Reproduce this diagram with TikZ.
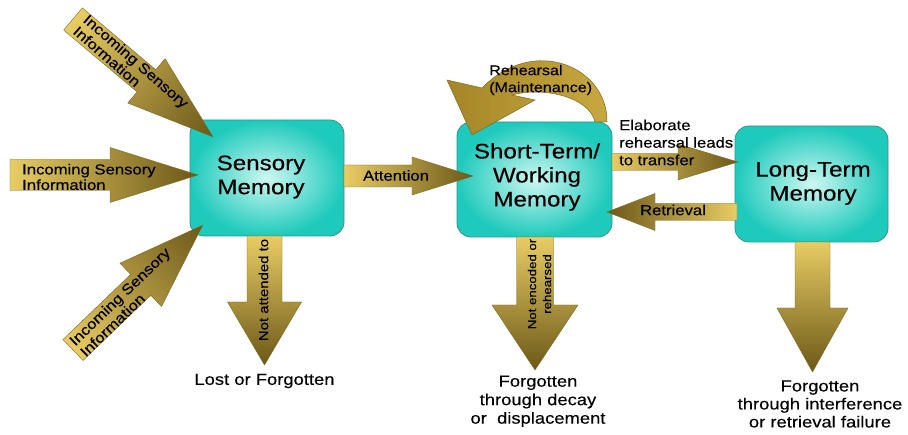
\documentclass[tikz,border=0pt]{standalone}
\usepackage{fontspec}
\setmainfont{Liberation Sans}[FakeStretch=1.15,FakeBold=0.3]
\definecolor{tealE}{RGB}{30,202,188}
\definecolor{tealC}{RGB}{205,247,241}
\definecolor{tealB}{RGB}{45,150,140}
\definecolor{goldL}{RGB}{232,204,100}
\definecolor{goldM}{RGB}{186,152,48}
\definecolor{goldD}{RGB}{108,88,24}
\definecolor{goldE}{RGB}{128,104,30}
\definecolor{rehL}{RGB}{165,134,40}
\definecolor{rehR}{RGB}{200,168,62}
\tikzset{
  memo/.style={rounded corners=14pt, draw=tealB, line width=0.8pt, inner color=tealC, outer color=tealE},
  barrowstyle/.style={left color=goldL, middle color=goldM, right color=goldD, draw=goldE, line width=0.4pt},
  rehstyle/.style={left color=rehL, right color=rehR, draw=goldE, line width=0.5pt},
  lbl/.style={inner sep=0pt, text=black},
  boxtxt/.style={lbl, font=\fontsize{21}{24}\selectfont, align=center}
}
\newcommand\blockarrow[7]{% tailx taily angle length shafthw headlen headhw
  \begin{scope}[transform canvas={shift={(#1,#2)},rotate=#3}]
    \path[barrowstyle] (0,-#5) -- (#4-#6,-#5) -- (#4-#6,-#7) -- (#4,0)
      -- (#4-#6,#7) -- (#4-#6,#5) -- (0,#5) -- cycle;
  \end{scope}}
\begin{document}
\begin{tikzpicture}[x=1pt,y=1pt]
\useasboundingbox (0,0) rectangle (908,434);
\fill[white] (0,0) rectangle (908,434);

% memory boxes
\node[memo, minimum width=154pt, minimum height=116pt] (sm) at (267,256) {};
\node[memo, minimum width=155pt, minimum height=115pt] (stm) at (534.5,254.5) {};
\node[memo, minimum width=153pt, minimum height=116pt] (ltm) at (811.5,250) {};

% block arrows
\blockarrow{73}{415}{-40.1}{183}{14.5}{87}{29}
\blockarrow{10}{259}{0}{188}{15.5}{88}{27.5}
\blockarrow{73}{84}{43.9}{180}{14.5}{86}{30}
\blockarrow{344}{258}{0}{129}{11}{61}{19}
\blockarrow{612}{272}{0}{126}{8.5}{60}{18}
\blockarrow{737}{222}{180}{130}{8.5}{48}{18.5}
\blockarrow{264.5}{198}{-90}{129}{17.5}{63}{37}
\blockarrow{535}{197}{-90}{133}{18.5}{65}{43}
\blockarrow{812.5}{192}{-90}{130}{17.5}{64}{35.5}

% rehearsal loop
\path[rehstyle] (607,312) .. controls (608,366) and (535,400) .. (482,346)
  -- (447,354) -- (472,299) -- (535,334) -- (512,339)
  .. controls (545,348) and (590,336) .. (595,312) -- cycle;

% box texts
\node[boxtxt] (smt) at (261,257) {Sensory\\Memory};
\node[boxtxt] (stmt) at (537,257) {Short-Term/\\Working\\Memory};
\node[boxtxt] (ltmt) at (813,250.5) {Long-Term\\Memory};

% labels
\node[lbl, font=\fontsize{14.5}{15.5}\selectfont, align=left, anchor=west] (inc2) at (22,257) {Incoming Sensory\\Information};
\node[lbl, font=\fontsize{14.5}{15.5}\selectfont, align=left, rotate=-41] (inc1) at (131,367) {Incoming Sensory\\Information};
\node[lbl, font=\fontsize{14.5}{15.5}\selectfont, align=left, rotate=44] (inc3) at (125,132) {Incoming Sensory\\Information};
\node[lbl, font=\fontsize{14.5}{17}\selectfont] (att) at (396,258.5) {Attention};
\node[lbl, font=\fontsize{14.5}{17}\selectfont] (ret) at (673,224) {Retrieval};
\node[lbl, font=\fontsize{14.5}{17.5}\selectfont, align=left, anchor=west] (elab) at (619,291.5) {Elaborate\\rehearsal leads\\to transfer};
\node[lbl, font=\fontsize{14}{17}\selectfont, align=left, anchor=west] (reh) at (489,354) {Rehearsal\\(Maintenance)};
\node[lbl, font=\fontsize{13}{15}\selectfont, rotate=90] (nat) at (263.5,144) {Not attended to};
\node[lbl, font=\fontsize{11.5}{15}\selectfont, align=center, rotate=90] (nenc) at (539.5,150) {Not encoded or\\rehearsed};
\node[lbl, font=\fontsize{16}{18}\selectfont] (lost) at (264.5,53) {Lost or Forgotten};
\node[lbl, font=\fontsize{16}{18.5}\selectfont, align=center] (fg1) at (538,32.7) {Forgotten\\through decay\\or\ \ displacement};
\node[lbl, font=\fontsize{16}{18}\selectfont, align=center] (fg2) at (820,30) {Forgotten\\through interference\\or retrieval failure};
\end{tikzpicture}
\end{document}
